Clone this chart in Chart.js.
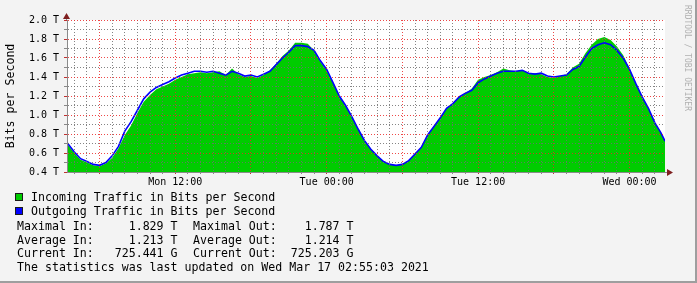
<!DOCTYPE html>
<html>
<head>
<meta charset="utf-8">
<script src="https://cdn.jsdelivr.net/npm/chart.js@4/dist/chart.umd.min.js"></script>
<style>
  body { margin: 0; }
  #wrap { position: relative; width: 697px; height: 283px; background: #f3f3f3; overflow: hidden; font-family: "DejaVu Sans Mono", monospace; }
  #wrap canvas { position: absolute; left: 0; top: 0; }
  .row { position: absolute; font-size: 11.6px; line-height: 14px; white-space: pre; color: #000; }
  .sq { position: absolute; left: 15px; width: 6px; height: 6px; border: 1px solid #1a1a1a; }
  #stamp { position: absolute; left: 683px; top: 5px; writing-mode: vertical-rl; font-size: 8px; color: #b0b0b0; }
  .edge { position: absolute; background: #9e9e9e; }
</style>
</head>
<body>
<div id="wrap">
  <canvas id="rrd" width="697" height="283"></canvas>
  <div id="stamp">RRDTOOL / TOBI OETIKER</div>
  <div class="sq" style="top:193px;background:#00cc00"></div>
  <div class="sq" style="top:207px;background:#0000ff"></div>
  <div class="row" style="left:31px;top:190px">Incoming Traffic in Bits per Second</div>
  <div class="row" style="left:31px;top:204px">Outgoing Traffic in Bits per Second</div>
  <div id="stats"></div>
  <div class="edge" style="right:0;top:0;width:2px;height:283px"></div>
  <div class="edge" style="left:0;bottom:0;width:697px;height:2px"></div>
</div>
<script>
// time in hours counted from Mon 00:00
const hours = [3.42, 4, 4.5, 5, 5.5, 6, 6.5, 7, 7.5, 8, 8.5, 9, 9.5, 10, 10.5, 11, 11.5, 12,
  12.5, 13, 13.5, 14, 14.5, 15, 15.5, 16, 16.5, 17, 17.5, 18, 18.5, 19, 19.5, 20, 20.5, 21,
  21.5, 22, 22.5, 23, 23.5, 24, 24.5, 25, 25.5, 26, 26.5, 27, 27.5, 28, 28.5, 29, 29.5, 30,
  30.5, 31, 31.5, 32, 32.5, 33, 33.5, 34, 34.5, 35, 35.5, 36, 36.5, 37, 37.5, 38, 38.5, 39,
  39.5, 40, 40.5, 41, 41.5, 42, 42.5, 43, 43.5, 44, 44.5, 45, 45.5, 46, 46.5, 47, 47.5, 48,
  48.5, 49, 49.5, 50, 50.5, 50.81];

// Tbit/s
const incoming = [0.70, 0.60, 0.53, 0.50, 0.47, 0.46, 0.49, 0.55, 0.65, 0.79, 0.89, 1.02, 1.14, 1.21, 1.27, 1.30, 1.33, 1.37,
  1.40, 1.43, 1.44, 1.45, 1.44, 1.45, 1.46, 1.42, 1.49, 1.43, 1.40, 1.41, 1.39, 1.42, 1.47, 1.54, 1.62, 1.68,
  1.76, 1.76, 1.75, 1.68, 1.56, 1.47, 1.34, 1.20, 1.10, 0.98, 0.85, 0.73, 0.64, 0.57, 0.51, 0.48, 0.47, 0.48,
  0.52, 0.59, 0.66, 0.79, 0.88, 0.97, 1.07, 1.12, 1.19, 1.23, 1.28, 1.37, 1.40, 1.42, 1.45, 1.49, 1.47, 1.46,
  1.47, 1.44, 1.44, 1.43, 1.40, 1.39, 1.41, 1.43, 1.50, 1.54, 1.65, 1.74, 1.80, 1.82, 1.79, 1.72, 1.63, 1.49,
  1.33, 1.19, 1.07, 0.92, 0.81, 0.725];

const outgoing = [0.71, 0.61, 0.54, 0.51, 0.48, 0.47, 0.50, 0.57, 0.67, 0.83, 0.93, 1.05, 1.17, 1.24, 1.29, 1.32, 1.35, 1.39,
  1.42, 1.44, 1.46, 1.46, 1.45, 1.46, 1.44, 1.42, 1.46, 1.44, 1.41, 1.42, 1.40, 1.43, 1.46, 1.53, 1.60, 1.66,
  1.73, 1.73, 1.72, 1.68, 1.57, 1.48, 1.34, 1.20, 1.10, 0.98, 0.85, 0.73, 0.64, 0.57, 0.51, 0.48, 0.47, 0.48,
  0.52, 0.59, 0.66, 0.79, 0.88, 0.97, 1.07, 1.12, 1.19, 1.23, 1.26, 1.34, 1.38, 1.41, 1.44, 1.46, 1.46, 1.46,
  1.47, 1.44, 1.43, 1.44, 1.41, 1.40, 1.41, 1.42, 1.48, 1.51, 1.61, 1.70, 1.74, 1.76, 1.74, 1.68, 1.60, 1.48,
  1.33, 1.19, 1.07, 0.92, 0.81, 0.725];

const xTickHours = [12, 24, 36, 48];
const xTickNames = ['Mon 12:00', 'Tue 00:00', 'Tue 12:00', 'Wed 00:00'];

const statsLeft = ['Maximal In:     1.829 T', 'Average In:     1.213 T', 'Current In:   725.441 G'];
const statsRight = ['Maximal Out:    1.787 T', 'Average Out:    1.214 T', 'Current Out:  725.203 G'];
const updated = 'The statistics was last updated on Wed Mar 17 02:55:03 2021';

// stats lines under the legend
const stats = document.getElementById('stats');
statsLeft.forEach((t, i) => {
  stats.insertAdjacentHTML('beforeend',
    '<div class="row" style="left:17px;top:' + (219 + i * 13.5) + 'px">' + t + '</div>' +
    '<div class="row" style="left:193px;top:' + (219 + i * 13.5) + 'px">' + statsRight[i] + '</div>');
});
stats.insertAdjacentHTML('beforeend', '<div class="row" style="left:17px;top:259.5px">' + updated + '</div>');

const mono = 'DejaVu Sans Mono';

// white plot background + axis arrows
const rrdLook = {
  id: 'rrdLook',
  beforeDraw(chart) {
    const a = chart.chartArea, ctx = chart.ctx;
    ctx.save();
    ctx.fillStyle = '#ffffff';
    ctx.fillRect(a.left, a.top, a.right - a.left, a.bottom - a.top);
    ctx.restore();
  },
  afterDraw(chart) {
    const a = chart.chartArea, ctx = chart.ctx;
    ctx.save();
    ctx.strokeStyle = '#8a8a8a';
    ctx.lineWidth = 1;
    ctx.beginPath();
    ctx.moveTo(a.left - 0.5, a.top);
    ctx.lineTo(a.left - 0.5, a.top - 3);
    ctx.moveTo(a.right, a.bottom + 0.5);
    ctx.lineTo(a.right + 3, a.bottom + 0.5);
    ctx.stroke();
    ctx.fillStyle = '#7f1f1f';
    ctx.beginPath();
    ctx.moveTo(a.left - 4, a.top - 1);
    ctx.lineTo(a.left + 3, a.top - 1);
    ctx.lineTo(a.left - 0.5, a.top - 7);
    ctx.closePath();
    ctx.fill();
    ctx.beginPath();
    ctx.moveTo(a.right + 2, a.bottom - 3);
    ctx.lineTo(a.right + 2, a.bottom + 4);
    ctx.lineTo(a.right + 8, a.bottom + 0.5);
    ctx.closePath();
    ctx.fill();
    ctx.restore();
  }
};

new Chart(document.getElementById('rrd'), {
  type: 'line',
  data: {
    datasets: [
      {
        label: 'Outgoing Traffic in Bits per Second',
        data: hours.map((h, i) => ({ x: h, y: outgoing[i] })),
        borderColor: '#0000ff',
        borderWidth: 1.6,
        pointRadius: 0,
        fill: false,
        order: 0
      },
      {
        label: 'Incoming Traffic in Bits per Second',
        data: hours.map((h, i) => ({ x: h, y: incoming[i] })),
        borderWidth: 0,
        borderColor: 'rgba(0,0,0,0)',
        backgroundColor: '#00cc00',
        pointRadius: 0,
        fill: 'start',
        order: 1
      }
    ]
  },
  options: {
    responsive: false,
    animation: false,
    layout: { padding: { left: 0, right: 32, top: 20, bottom: 91 } },
    plugins: { legend: { display: false }, tooltip: { enabled: false } },
    scales: {
      x: {
        type: 'linear',
        min: 3.42,
        max: 50.81,
        afterFit: s => { s.height = 20; },
        ticks: {
          stepSize: 1,
          includeBounds: false,
          autoSkip: false,
          maxRotation: 0,
          padding: 2,
          color: '#000',
          font: { family: mono, size: 10 },
          callback: v => {
            const k = xTickHours.indexOf(Math.round(v));
            return k >= 0 ? xTickNames[k] : '';
          }
        },
        grid: {
          z: 1,
          tickLength: 2,
          color: c => (Math.round(c.tick.value) % 6 === 0 ? 'rgba(235,40,40,0.85)' : 'rgba(110,110,110,0.85)'),
          tickColor: c => (Math.round(c.tick.value) % 6 === 0 ? '#c03030' : '#888')
        },
        border: { z: 2, color: '#8a8a8a', dash: [1, 2] }
      },
      y: {
        min: 0.4,
        max: 2.0,
        afterFit: s => { s.width = 67; },
        ticks: {
          stepSize: 0.1,
          autoSkip: false,
          padding: 5,
          color: '#000',
          font: { family: mono, size: 10 },
          callback: v => (Math.round(v * 10) % 2 === 0 ? v.toFixed(1) + ' T' : '')
        },
        title: {
          display: true,
          text: 'Bits per Second',
          color: '#000',
          font: { family: mono, size: 11.6 },
          padding: { top: 4, bottom: 0 }
        },
        grid: {
          z: 1,
          tickLength: 3,
          color: c => (Math.round(c.tick.value * 10) % 2 === 0 ? 'rgba(235,40,40,0.85)' : 'rgba(110,110,110,0.85)'),
          tickColor: c => (Math.round(c.tick.value * 10) % 2 === 0 ? '#c03030' : '#888')
        },
        border: { z: 2, color: '#8a8a8a', dash: [1, 2] }
      }
    }
  },
  plugins: [rrdLook]
});
</script>
</body>
</html>
